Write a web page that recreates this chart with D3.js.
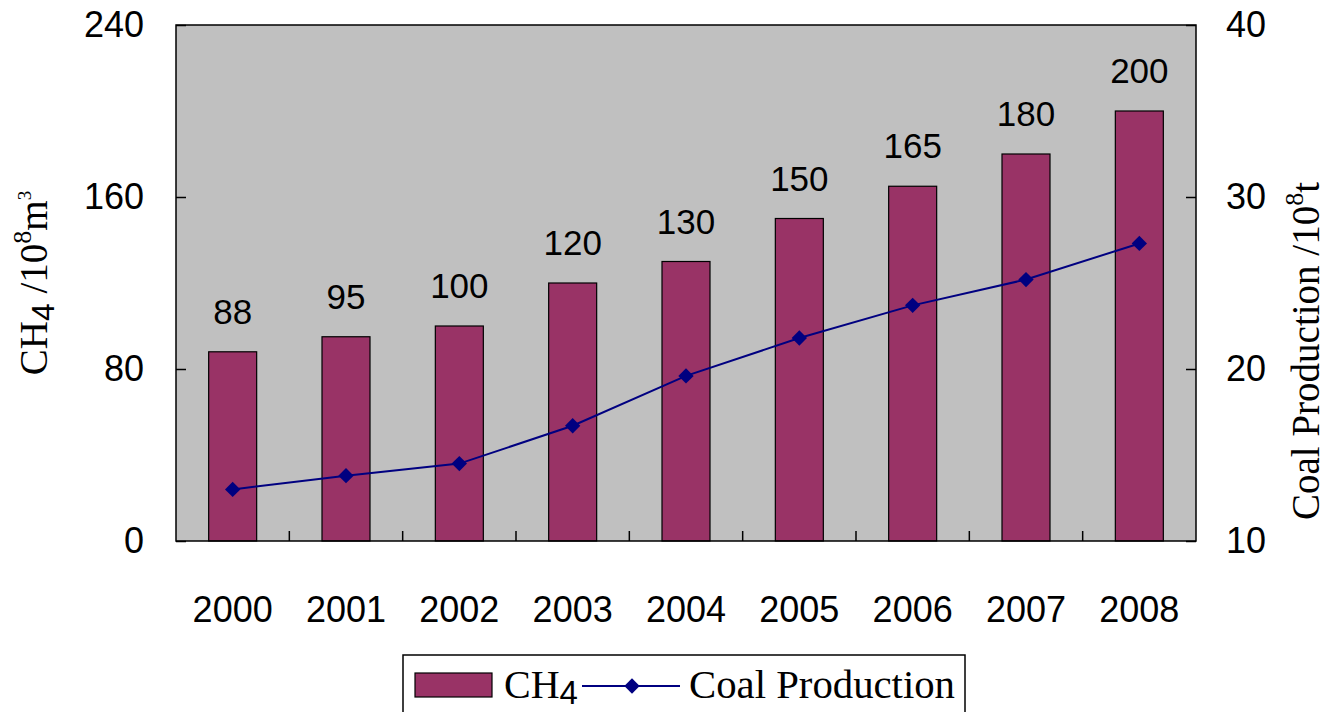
<!DOCTYPE html>
<html><head><meta charset="utf-8">
<script src="https://cdn.jsdelivr.net/npm/d3@7/dist/d3.min.js"></script>
<style>body{margin:0;background:#fff}svg{display:block}</style>
</head><body>
<svg id="c" width="1328" height="712"></svg>
<script>
const years = ["2000","2001","2002","2003","2004","2005","2006","2007","2008"];
const ch4 = [88, 95, 100, 120, 130, 150, 165, 180, 200];
const coal = [13.0, 13.8, 14.5, 16.7, 19.6, 21.8, 23.7, 25.2, 27.3];
const leftTicks = [0, 80, 160, 240];
const rightTicks = [10, 20, 30, 40];

const svg = d3.select("#c");
const L = 176, R = 1196, T = 25, B = 541;
const xb = d3.scaleBand().domain(years).range([L, R]);
const yL = d3.scaleLinear().domain([0, 240]).range([B, T]);
const yR = d3.scaleLinear().domain([10, 40]).range([B, T]);
const cx = d => xb(d) + xb.bandwidth() / 2;

svg.append("rect").attr("x", L).attr("y", T).attr("width", R - L).attr("height", B - T).attr("fill", "#c0c0c0");

// bars
svg.append("g").selectAll("rect").data(ch4).join("rect")
  .attr("x", (d, i) => cx(years[i]) - 24)
  .attr("width", 48)
  .attr("y", d => yL(d)).attr("height", d => B - yL(d))
  .attr("fill", "#993366").attr("stroke", "#000").attr("stroke-width", 1.2);

// bar labels
svg.append("g").selectAll("text").data(ch4).join("text")
  .attr("x", (d, i) => cx(years[i]))
  .attr("y", d => yL(d) - 28)
  .attr("text-anchor", "middle")
  .attr("font-family", "Liberation Sans, Arial, sans-serif").attr("font-size", 35)
  .text(d => d);

// line
const line = d3.line().x((d, i) => cx(years[i])).y(d => yR(d));
svg.append("path").datum(coal).attr("d", line).attr("fill", "none").attr("stroke", "#000080").attr("stroke-width", 2);
svg.append("g").selectAll("path").data(coal).join("path")
  .attr("transform", (d, i) => `translate(${cx(years[i])},${yR(d)})`)
  .attr("d", d3.symbol(d3.symbolDiamond2, 150)())
  .attr("fill", "#000080");

// axes
const axL = d3.axisLeft(yL).tickValues(leftTicks).tickSizeInner(-10).tickSizeOuter(0).tickPadding(32);
const gL = svg.append("g").attr("transform", `translate(${L},0)`).call(axL);
const axR = d3.axisRight(yR).tickValues(rightTicks).tickSizeInner(-10).tickSizeOuter(0).tickPadding(30);
const gR = svg.append("g").attr("transform", `translate(${R},0)`).call(axR);
const axB = d3.axisBottom(xb).tickSize(0).tickPadding(55);
const gB = svg.append("g").attr("transform", `translate(0,${B})`).call(axB);
[gL, gR, gB].forEach(g => {
  g.select(".domain").remove();
  g.selectAll("line").attr("stroke", "#000").attr("stroke-width", 1.5);
  g.selectAll("text").attr("font-family", "Liberation Sans, Arial, sans-serif").attr("font-size", 36).attr("fill", "#000");
});
// category boundary ticks
svg.append("g").selectAll("line").data(years.slice(1)).join("line")
  .attr("x1", d => xb(d)).attr("x2", d => xb(d)).attr("y1", B).attr("y2", B - 10)
  .attr("stroke", "#000").attr("stroke-width", 1.5);

// frame
svg.append("rect").attr("x", L).attr("y", T).attr("width", R - L).attr("height", B - T)
  .attr("fill", "none").attr("stroke", "#000").attr("stroke-width", 1.5);

// axis titles
const serif = "Liberation Serif, Times New Roman, serif";
const tl = svg.append("text").attr("transform", "translate(47,283) rotate(-90)")
  .attr("text-anchor", "middle").attr("font-family", serif).attr("font-size", 39);
tl.append("tspan").text("CH");
tl.append("tspan").attr("dy", 7).attr("font-family", "Liberation Sans, Arial, sans-serif").attr("font-size", 32).text("4");
tl.append("tspan").attr("dy", -7).text(" /10");
tl.append("tspan").attr("dy", -16).attr("font-size", 26).text("8");
tl.append("tspan").attr("dy", 16).text("m");
tl.append("tspan").attr("dy", -16).attr("font-size", 19).text("3");

const tr = svg.append("text").attr("transform", "translate(1319,351) rotate(-90)")
  .attr("text-anchor", "middle").attr("font-family", serif).attr("font-size", 39);
tr.append("tspan").text("Coal Production /10");
tr.append("tspan").attr("dy", -16).attr("font-size", 26).text("8");
tr.append("tspan").attr("dy", 16).text("t");

// legend
svg.append("rect").attr("x", 403).attr("y", 655).attr("width", 562).attr("height", 70)
  .attr("fill", "#fff").attr("stroke", "#000").attr("stroke-width", 1.5);
svg.append("rect").attr("x", 415).attr("y", 673).attr("width", 77).attr("height", 24)
  .attr("fill", "#993366").attr("stroke", "#000").attr("stroke-width", 1.2);
const lt = svg.append("text").attr("x", 504).attr("y", 698).attr("font-family", serif).attr("font-size", 40);
lt.append("tspan").text("CH");
lt.append("tspan").attr("dy", 6).attr("font-family", "Liberation Sans, Arial, sans-serif").attr("font-size", 33).text("4");
svg.append("line").attr("x1", 582).attr("x2", 680).attr("y1", 686).attr("y2", 686).attr("stroke", "#000080").attr("stroke-width", 2);
svg.append("path").attr("transform", "translate(632,686)").attr("d", d3.symbol(d3.symbolDiamond2, 150)()).attr("fill", "#000080");
svg.append("text").attr("x", 689).attr("y", 698).attr("font-family", serif).attr("font-size", 40)
  .attr("textLength", 266).attr("lengthAdjust", "spacingAndGlyphs").text("Coal Production");
</script>
</body></html>
